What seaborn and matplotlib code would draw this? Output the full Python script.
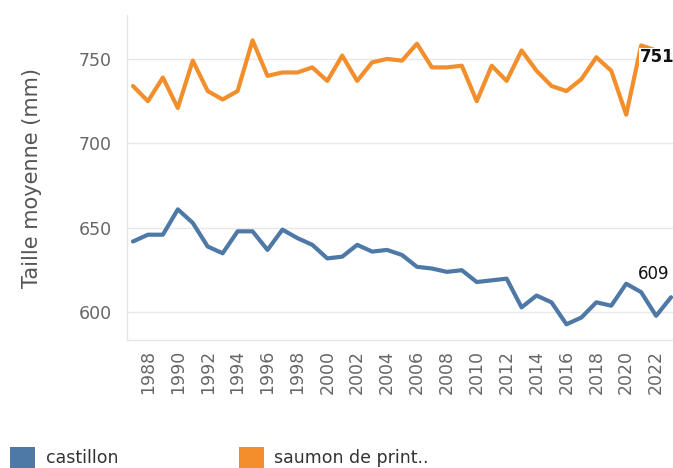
import matplotlib
matplotlib.use("Agg")
import matplotlib.pyplot as plt
from matplotlib.patches import Patch
import seaborn as sns
import pandas as pd

# years shown on the chart
years = list(range(1987, 2024))

# mean size (mm)
castillon = [642, 646, 646, 661, 653, 639, 635, 648, 648, 637,
             649, 644, 640, 632, 633, 640, 636, 637, 634, 627,
             626, 624, 625, 618, 619, 620, 603, 610, 606, 593,
             597, 606, 604, 617, 612, 598, 609]
saumon = [734, 725, 739, 721, 749, 731, 726, 731, 761, 740,
          742, 742, 745, 737, 752, 737, 748, 750, 749, 759,
          745, 745, 746, 725, 746, 737, 755, 743, 734, 731,
          738, 751, 743, 717, 758, 755, 751]

series_names = ["castillon", "saumon de print.."]
colors = ["#4e79a7", "#f28e2b"]

df = pd.DataFrame({"year": years * 2,
                   "taille": castillon + saumon,
                   "espece": [series_names[0]] * len(years) + [series_names[1]] * len(years)})

sns.set_style("white")
plt.rcParams['font.family'] = ['DejaVu Sans']

fig = plt.figure(figsize=(6.73, 4.68), dpi=100)
# axes run past the right edge, like the cropped original
ax = fig.add_axes([127 / 673, 1 - 340 / 468, 559 / 673, 325 / 468])

sns.lineplot(data=df, x="year", y="taille", hue="espece", palette=colors,
             linewidth=3, legend=False, ax=ax)

ax.set_xlim(1986.6, 2024)
ax.set_ylim(583.7, 776)
ax.set_xticks(range(1988, 2023, 2))
ax.set_yticks([600, 650, 700, 750])
ax.tick_params(axis="x", rotation=90, length=0, pad=7, labelsize=12.5, labelcolor="#666666")
ax.tick_params(axis="y", length=0, pad=11, labelsize=12.5, labelcolor="#666666")
ax.grid(axis="y", color="#e8e8e8", linewidth=1)
ax.set_axisbelow(True)
for side in ["top", "right"]:
    ax.spines[side].set_visible(False)
for side in ["left", "bottom"]:
    ax.spines[side].set_color("#e6e6e6")
    ax.spines[side].set_linewidth(1)

ax.set_xlabel("")
ax.set_ylabel("Taille moyenne (mm)", fontsize=15, color="#555555")
ax.yaxis.set_label_coords(-0.152, 0.5)

# last value labels
ax.annotate(str(saumon[-1]), xy=(years[-1], saumon[-1]), xytext=(-22.5, 0),
            textcoords="offset points", ha="left", va="center",
            fontsize=12, fontweight="bold", color="#111111",
            bbox=dict(boxstyle="square,pad=0.02", fc="white", ec="none"))
ax.annotate(str(castillon[-1]), xy=(years[-1], castillon[-1]), xytext=(-24, 17),
            textcoords="offset points", ha="left", va="center",
            fontsize=12, color="#111111")

handles = [Patch(facecolor=c, edgecolor="none", label=n) for c, n in zip(colors, series_names)]
fig.legend(handles=handles, loc="upper left", bbox_to_anchor=(10 / 673, 1 - 447 / 468),
           ncol=2, frameon=False, fontsize=12.5, handlelength=1.45, handleheight=1.45,
           handletextpad=0.6, columnspacing=6.95, borderpad=0, borderaxespad=0,
           labelcolor="#333333")

fig.savefig("out.png", dpi=100)
